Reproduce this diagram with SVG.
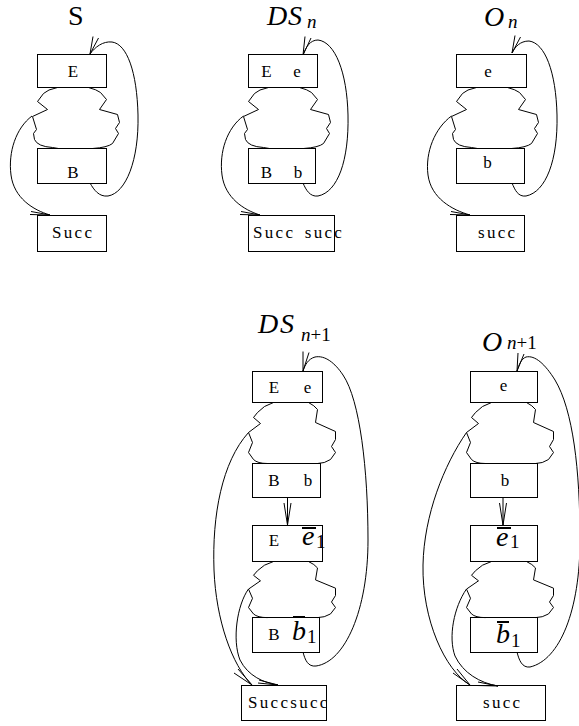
<svg xmlns="http://www.w3.org/2000/svg" xmlns:xlink="http://www.w3.org/1999/xlink" width="579" height="726" viewBox="0 0 579 726" font-family="'Liberation Serif', 'DejaVu Serif', serif">
  <style>
    .box { fill: none; stroke: #000; stroke-width: 1; }
    .ln { fill: none; stroke: #000; stroke-width: 1; }
    .t { font-family: "Liberation Serif", "DejaVu Serif", serif; font-size: 17px; fill: #000; }
    .sp { letter-spacing: 2.3px; word-spacing: 3px; }
    .ttl { font-family: "Liberation Serif", "DejaVu Serif", serif; font-size: 28px; fill: #000; }
    .it { font-style: italic; }
    .sub { font-size: 19px; }
    .bar { fill: #000; }
  </style>
  <defs>
    <!-- wavy region between an E box and the following B box (upper row style) -->
    <path id="blobA" class="ln" vector-effect="non-scaling-stroke"
          d="M20,0 Q10,2 6,6 L0,14 L10,22 L-5,29 L-1,42 L-4,46 L-3,52 Q0,59 15,60 L21,61 M51,0 Q59,2 63,5 L69,12 L62,22 L80,27 L82,35 L78,41 L81,46 L75,56 Q70,60 55,61"/>
    <!-- wavy region, lower row style -->
    <path id="blobB" class="ln" vector-effect="non-scaling-stroke"
          d="M21,0 Q11,3 5,10 L1,15 L8,21 L-4,30 L0,40 L-4,50 L1,57 Q5,61 15,61 M56,0 Q62,3 65,7 L63,20 L83,29 L83,37 L79,44 L83,50 L78,57 Q72,61 65,61"/>
  </defs>

  <!-- ===== S ===== -->
  <g id="title-S"><text class="ttl" x="68" y="25">S</text></g>
  <g id="S-E"><rect class="box" x="37.5" y="54.5" width="69" height="33"/><text class="t" x="73" y="76.5" text-anchor="middle">E</text></g>
  <g id="S-loop"><use xlink:href="#blobA" transform="translate(37.5,87.5)"/></g>
  <g id="S-B"><rect class="box" x="37.5" y="148.5" width="69" height="35"/><text class="t" x="73" y="177.5" text-anchor="middle">B</text></g>
  <g id="S-Succ"><rect class="box" x="37.5" y="215.5" width="69" height="36"/><text class="t sp" x="52" y="237.5">Succ</text></g>

  <!-- ===== DS_n ===== -->
  <g id="title-DSn"><text class="ttl it" x="267" y="25">D<tspan x="288">S</tspan><tspan class="sub" x="307" y="28">n</tspan></text></g>
  <g id="DSn-E"><rect class="box" x="248.5" y="54.5" width="69" height="33"/><text class="t" x="266.5" y="76.5" text-anchor="middle">E</text><text class="t" x="297" y="76.5" text-anchor="middle">e</text></g>
  <g id="DSn-loop"><use xlink:href="#blobA" transform="translate(248.5,87.5)"/></g>
  <g id="DSn-B"><rect class="box" x="248.5" y="148.5" width="67" height="35"/><text class="t" x="266.5" y="177.5" text-anchor="middle">B</text><text class="t" x="298" y="177.5" text-anchor="middle">b</text></g>
  <g id="DSn-Succ"><rect class="box" x="248.5" y="215.5" width="86" height="36"/><text class="t sp" x="253" y="237.5">Succ succ</text></g>

  <!-- ===== O_n ===== -->
  <g id="title-On"><text class="ttl it" x="484" y="26">O<tspan class="sub" x="508" y="28">n</tspan></text></g>
  <g id="On-e"><rect class="box" x="456.5" y="54.5" width="70" height="33"/><text class="t" x="488" y="76.5" text-anchor="middle">e</text></g>
  <g id="On-loop"><use xlink:href="#blobA" transform="translate(456.5,87.5)"/></g>
  <g id="On-b"><rect class="box" x="456.5" y="148.5" width="68" height="35"/><text class="t" x="487.5" y="167.5" text-anchor="middle">b</text></g>
  <g id="On-succ"><rect class="box" x="456.5" y="215.5" width="68" height="36"/><text class="t sp" x="478" y="237.5">succ</text></g>

  <!-- ===== DS_{n+1} ===== -->
  <g id="title-DSn1"><text class="ttl it" x="258" y="333" font-size="30">D<tspan x="280">S</tspan><tspan class="sub" x="301" y="341">n</tspan><tspan class="sub" font-style="normal">+1</tspan></text></g>
  <g id="DSn1-E"><rect class="box" x="252.5" y="371.5" width="70" height="31"/><text class="t" x="274" y="392.5" text-anchor="middle">E</text><text class="t" x="307.5" y="392.5" text-anchor="middle">e</text></g>
  <g id="DSn1-loop1"><use xlink:href="#blobB" transform="translate(252.5,402.5)"/></g>
  <g id="DSn1-B"><rect class="box" x="252.5" y="463.5" width="68" height="34"/><text class="t" x="274" y="485.5" text-anchor="middle">B</text><text class="t" x="308" y="485.5" text-anchor="middle">b</text></g>
  <g id="DSn1-E1"><rect class="box" x="252.5" y="525.5" width="70" height="36"/><text class="t" x="274" y="545.5" text-anchor="middle">E</text><text class="ttl it" x="302" y="545">e<tspan class="sub" font-style="normal" x="316" y="548">1</tspan></text><rect class="bar" x="302" y="527" width="14" height="2"/></g>
  <g id="DSn1-loop2"><use xlink:href="#blobB" transform="translate(252.5,561.5) scale(1,0.92)"/></g>
  <g id="DSn1-B1"><rect class="box" x="252.5" y="617.5" width="67" height="35"/><text class="t" x="274" y="639.5" text-anchor="middle">B</text><text class="ttl it" x="292" y="640">b<tspan class="sub" font-style="normal" x="307" y="643">1</tspan></text><rect class="bar" x="293" y="616" width="12" height="2"/></g>
  <g id="DSn1-Succ"><rect class="box" x="241.5" y="685.5" width="85" height="35"/><text class="t sp" x="248" y="708">Succsucc</text></g>

  <!-- ===== O_{n+1} ===== -->
  <g id="title-On1"><text class="ttl it" x="482" y="351" font-size="30">O<tspan class="sub" x="507" y="349">n</tspan><tspan class="sub" font-style="normal">+1</tspan></text></g>
  <g id="On1-e"><rect class="box" x="470.5" y="371.5" width="67" height="31"/><text class="t" x="503.5" y="390.5" text-anchor="middle">e</text></g>
  <g id="On1-loop1"><use xlink:href="#blobB" transform="translate(470.5,402.5)"/></g>
  <g id="On1-b"><rect class="box" x="470.5" y="463.5" width="67" height="34"/><text class="t" x="505" y="485.5" text-anchor="middle">b</text></g>
  <g id="On1-e1"><rect class="box" x="470.5" y="525.5" width="67" height="36"/><text class="ttl it" x="496" y="546">e<tspan class="sub" font-style="normal" x="510" y="548">1</tspan></text><rect class="bar" x="497" y="527" width="14" height="2"/></g>
  <g id="On1-loop2"><use xlink:href="#blobB" transform="translate(470.5,561.5) scale(1,0.92)"/></g>
  <g id="On1-b1"><rect class="box" x="470.5" y="617.5" width="67" height="35"/><text class="ttl it" x="496" y="643">b<tspan class="sub" font-style="normal" x="511" y="647">1</tspan></text><rect class="bar" x="497" y="621" width="12" height="2"/></g>
  <g id="On1-succ"><rect class="box" x="456.5" y="685.5" width="89" height="35"/><text class="t sp" x="483" y="708">succ</text></g>

  <!-- ===== connectors ===== -->
  <g id="connectors" class="ln">
    <!-- S -->
    <path d="M90,183 C94,190 99,197 108,196 C126,193 139,160 138,115 C137,72 127,44 112,42 C103,41 95,47 90,54"/>
    <path d="M93,36.5 L90,54 L98.5,38"/>
    <path d="M32,116 C16,128 8,152 11,175 C14,198 33,210 50,215"/>
    <path d="M30,214.5 L50,215 L31,211.5"/>
    <!-- DS_n -->
    <path d="M303,183 C306,190 310,197 318,196 C338,192 349,160 348,115 C347,72 335,42 318,40 C310,40 306,47 303,55"/>
    <path d="M305,36.5 L303,55 L311,38"/>
    <path d="M243.5,116 C227,128 219,152 222,175 C225,198 244,210 260,215"/>
    <path d="M240,214.5 L260,215 L241,211.5"/>
    <!-- O_n -->
    <path d="M512,183 C515,190 518,197 526,196 C546,192 558,160 557,115 C556,72 545,43 529,41 C520,41 515,47 512,53"/>
    <path d="M515,35.5 L512,53 L520.5,37"/>
    <path d="M451.5,116 C435,128 425,152 428,175 C431,198 452,210 470,215"/>
    <path d="M450,214.5 L470,215 L451,211.5"/>
    <!-- DS_{n+1} -->
    <path d="M287.5,497.5 L287.5,525"/>
    <path d="M284,503 L287.5,525 L291,503"/>
    <path d="M303,652 C305,660 308,667 316,666 C345,662 368,610 368,540 C368,470 360,400 343,375 C335,363 325,355 315,357 C308,359 305,365 303,371"/>
    <path d="M303,351.5 L303,371 L309,352.5"/>
    <path d="M248.5,432.5 C222,462 212,515 214,570 C216,620 232,665 252,685"/>
    <path d="M234,673 L252,685 L238,669"/>
    <path d="M248.5,589 C237,605 232,640 240,660 C248,676 264,683 278,685"/>
    <path d="M258,683 L278,685 L259,680"/>
    <!-- O_{n+1} -->
    <path d="M503,497.5 L503,525"/>
    <path d="M499.5,503 L503,525 L506.5,503"/>
    <path d="M517,652 C519,660 522,668 530,667 C560,660 580,610 580,540 C580,470 573,410 555,380 C545,364 535,355 526,357 C521,359 519,365 517,371"/>
    <path d="M518,353 L517,371 L524,354"/>
    <path d="M466.5,432.5 C444,465 424,515 423,565 C422,620 445,670 470,685"/>
    <path d="M453,673 L470,685 L457,669"/>
    <path d="M466.5,589 C454,607 448,637 455,656 C463,673 480,683 498,686"/>
    <path d="M477,685.5 L498,686 L478,682"/>
  </g>
</svg>
